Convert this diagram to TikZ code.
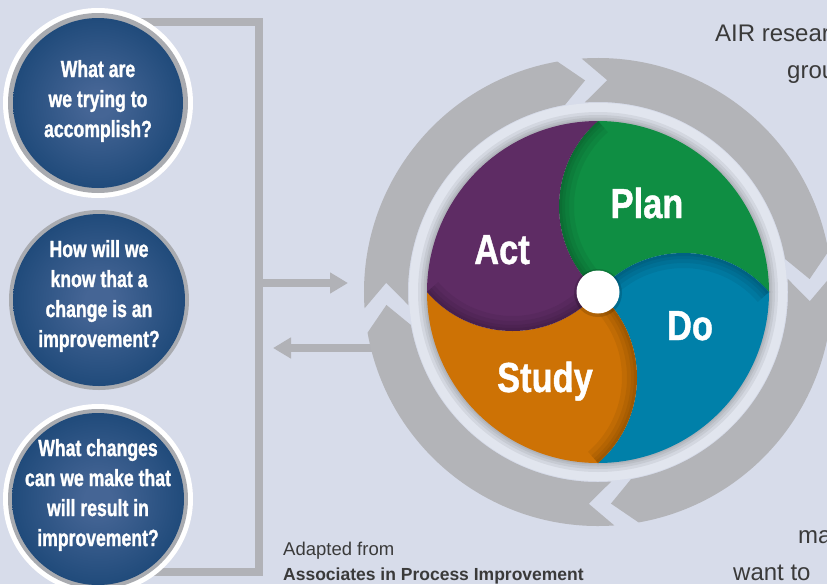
\documentclass[tikz,border=0pt]{standalone}
\usepackage{fontspec}
\setmainfont{Liberation Sans}
\newfontfamily\condb{Liberation Sans}[FakeStretch=0.75,FakeBold=1.2]
\newfontfamily\bigb{Liberation Sans}[FakeStretch=0.82,FakeBold=1.0]
\usetikzlibrary{arrows.meta}
\definecolor{bg}{HTML}{D7DCEA}
\definecolor{ringgray}{HTML}{B3B4B8}
\definecolor{barg}{HTML}{B1B2B7}
\definecolor{band}{HTML}{E1E5EE}
\definecolor{bcin}{HTML}{456595}
\definecolor{bcmid}{HTML}{1B4777}
\definecolor{bcout}{HTML}{093462}
\definecolor{qring}{HTML}{A9ABB0}
\definecolor{plang}{HTML}{0F8E43}
\definecolor{doblue}{HTML}{0080A9}
\definecolor{studyo}{HTML}{CD7205}
\definecolor{actp}{HTML}{5E2C64}
\definecolor{txt}{HTML}{3A3A3A}
\pgfdeclareradialshading{bball}{\pgfpoint{0bp}{0bp}}{color(0bp)=(bcin); color(4bp)=(bcin); color(28bp)=(bcmid); color(50bp)=(bcout)}
\tikzset{
  bar/.style={draw=barg, line width=8pt, line cap=butt, line join=miter},
  qtext/.style={text=white, align=center, font=\condb\bfseries\fontsize{23.5}{30}\selectfont},
  biglabel/.style={text=white, anchor=base, inner sep=0pt, font=\bigb\bfseries\fontsize{42}{48}\selectfont},
  sidetext/.style={text=txt, anchor=base west, inner sep=0pt, font=\fontsize{24}{28}\selectfont},
  foot/.style={text=txt, anchor=base west, inner sep=0pt},
  tipA/.style={-{Triangle[length=18pt,width=20pt]}}
}
\begin{document}
\begin{tikzpicture}[x=1pt,y=-1pt]
\useasboundingbox (0,0) rectangle (827,584);
\clip (0,0) rectangle (827,584);
\fill[bg] (0,0) rectangle (827,584);

% bracket and arrows
\coordinate (bt) at (110,22);
\coordinate (btr) at (259,22);
\coordinate (bbr) at (259,572);
\coordinate (bb) at (110,572);
\draw[bar] (bt) -- (btr) -- (bbr) -- (bb);
\coordinate (a1s) at (259,283);
\coordinate (a1e) at (348,283);
\draw[bar,tipA] (a1s) -- (a1e);
\coordinate (a2s) at (378,348);
\coordinate (a2e) at (273,348);
\draw[bar,tipA] (a2s) -- (a2e);

% question circles
\fill[white] (98,103) circle[radius=95];
\fill[qring] (98,103) circle[radius=90];
\shade[shading=bball] (98,103) circle[radius=85];
\node[qtext] (q1) at (98,101) {What are\\we trying to\\accomplish?};

\fill[qring] (99,300) circle[radius=90];
\shade[shading=bball] (99,300) circle[radius=86];
\node[qtext] (q2) at (99,296) {How will we\\know that a\\change is an\\improvement?};

\fill[white] (98,499) circle[radius=95];
\fill[qring] (98,499) circle[radius=90];
\shade[shading=bball] (98,499) circle[radius=86];
\node[qtext] (q3) at (98,495) {What changes\\can we make that\\will result in\\improvement?};

% outer ring of chevron arrows
\foreach \g in {-100,-10,80,170} {
  \pgfmathsetmacro\ga{\g+6}
  \pgfmathsetmacro\gb{\g+90}
  \pgfmathsetmacro\gt{\g+96.5}
  \pgfmathsetmacro\gn{\g+12.5}
  \fill[ringgray] ([shift={(598,292)}]\ga:234) arc[start angle=\ga, end angle=\gb, radius=234]
     -- ([shift={(598,292)}]\gt:212) -- ([shift={(598,292)}]\gb:190)
     arc[start angle=\gb, end angle=\ga, radius=190]
     -- ([shift={(598,292)}]\gn:212) -- cycle;
}

% light band and shadow round the disk
\fill[band] (598,292) circle[radius=189];
\foreach \w in {18,12,7,3}
  \draw[black, opacity=.06, line width=\w pt] (598,292) circle[radius=171];

% petals
\def\plan{(598,292) .. controls (546,247) and (546,166) .. (598,121) arc[start angle=-90,end angle=0,radius=171] .. controls (724,240) and (643,240) .. (598,292) -- cycle}
\def\doo{(598,292) .. controls (643,240) and (724,240) .. (769,292) arc[start angle=0,end angle=90,radius=171] .. controls (650,418) and (650,337) .. (598,292) -- cycle}
\def\study{(598,292) .. controls (650,337) and (650,418) .. (598,463) arc[start angle=90,end angle=180,radius=171] .. controls (472,344) and (553,344) .. (598,292) -- cycle}
\def\act{(598,292) .. controls (553,344) and (472,344) .. (427,292) arc[start angle=180,end angle=270,radius=171] .. controls (546,166) and (546,247) .. (598,292) -- cycle}
\fill[plang] \plan;
\fill[doblue] \doo;
\fill[studyo] \study;
\fill[actp] \act;

\begin{scope}
  \clip \plan;
  \foreach \w in {30,20,12,6}
    \draw[black, opacity=.06, line width=\w pt] (598,292) .. controls (546,247) and (546,166) .. (598,121);
\end{scope}
\begin{scope}
  \clip \doo;
  \foreach \w in {30,20,12,6}
    \draw[black, opacity=.06, line width=\w pt] (598,292) .. controls (643,240) and (724,240) .. (769,292);
\end{scope}
\begin{scope}
  \clip \study;
  \foreach \w in {30,20,12,6}
    \draw[black, opacity=.06, line width=\w pt] (598,292) .. controls (650,337) and (650,418) .. (598,463);
\end{scope}
\begin{scope}
  \clip \act;
  \foreach \w in {30,20,12,6}
    \draw[black, opacity=.06, line width=\w pt] (598,292) .. controls (553,344) and (472,344) .. (427,292);
\end{scope}

% centre dot
\fill[black, opacity=.15] (598,293) circle[radius=24];
\node[circle, fill=white, minimum size=43pt, inner sep=0pt] (dot) at (598,292) {};

% labels
\node[biglabel] (plan) at (647,218) {Plan};
\node[biglabel] (act) at (502,264) {Act};
\node[biglabel] (do) at (690,340) {Do};
\node[biglabel] (studyl) at (545,392) {Study};

% texts
\node[sidetext] (t1) at (715,41) {AIR resear};
\node[sidetext] (t2) at (787,78) {grou};
\node[sidetext] (t3) at (798,543) {ma};
\node[sidetext] (t4) at (733,580) {want to};
\node[foot, font=\fontsize{18.5}{22}\selectfont] (f1) at (283,555) {Adapted from};
\node[foot, font=\bfseries\fontsize{17.5}{22}\selectfont] (f2) at (283,580) {Associates in Process Improvement};
\end{tikzpicture}
\end{document}
